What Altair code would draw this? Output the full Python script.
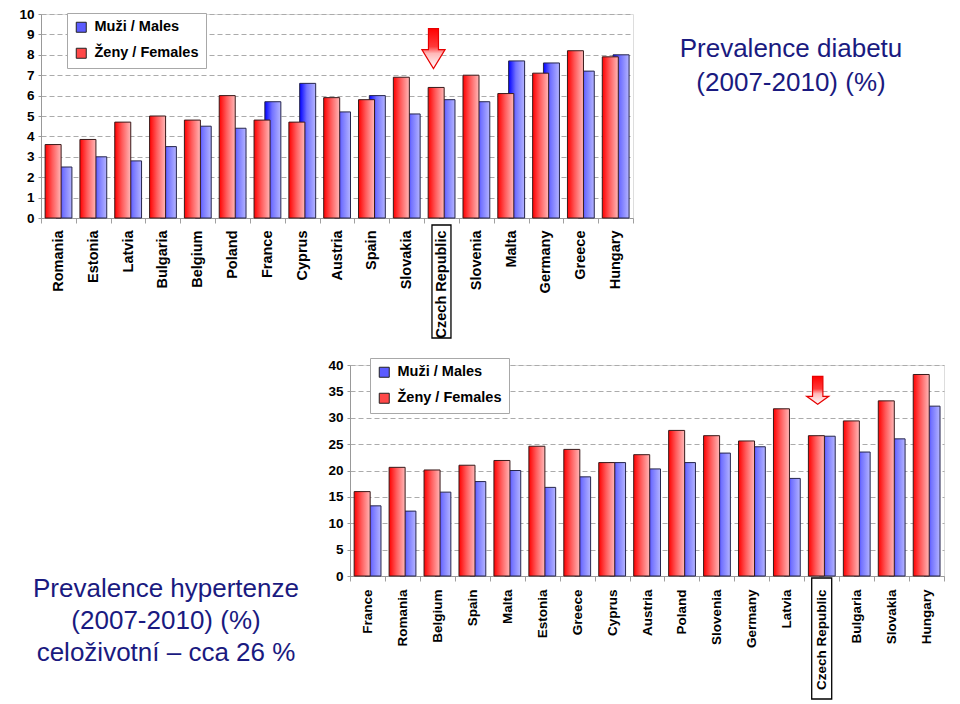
import altair as alt
import pandas as pd

# ---------------- data ----------------
diab_countries = ["Romania", "Estonia", "Latvia", "Bulgaria", "Belgium", "Poland", "France",
                  "Cyprus", "Austria", "Spain", "Slovakia", "Czech Republic", "Slovenia",
                  "Malta", "Germany", "Greece", "Hungary"]
diab_males = [2.5, 3.0, 2.8, 3.5, 4.5, 4.4, 5.7, 6.6, 5.2, 6.0, 5.1, 5.8, 5.7, 7.7, 7.6, 7.2, 8.0]
diab_females = [3.6, 3.85, 4.7, 5.0, 4.8, 6.0, 4.8, 4.7, 5.9, 5.8, 6.9, 6.4, 7.0, 6.1, 7.1, 8.2, 7.9]

hyp_countries = ["France", "Romania", "Belgium", "Spain", "Malta", "Estonia", "Greece", "Cyprus",
                 "Austria", "Poland", "Slovenia", "Germany", "Latvia", "Czech Republic",
                 "Bulgaria", "Slovakia", "Hungary"]
hyp_males = [13.3, 12.3, 15.9, 17.9, 20.0, 16.8, 18.8, 21.5, 20.3, 21.5, 23.3, 24.5, 18.5,
             26.5, 23.5, 26.0, 32.2]
hyp_females = [16.0, 20.6, 20.1, 21.0, 21.9, 24.6, 24.0, 21.5, 23.0, 27.6, 26.6, 25.6, 31.7,
               26.6, 29.4, 33.2, 38.2]

series_names = ["Muži / Males", "Ženy / Females"]
highlight_country = "Czech Republic"
diab_ticks = list(range(0, 11))
hyp_ticks = list(range(0, 41, 5))
diab_title_lines = ["Prevalence diabetu", "(2007-2010) (%)"]
hyp_title_lines = ["Prevalence hypertenze", "(2007-2010) (%)", "celoživotní – cca 26 %"]

# ---------------- styles ----------------
FONT = "Liberation Sans, Arial, sans-serif"
NAVY = "#1a1a80"


def grad(stops, vertical=False):
    return alt.LinearGradient(
        gradient="linear",
        stops=[alt.GradientStop(color=c, offset=o) for c, o in stops],
        x1=0, x2=0 if vertical else 1, y1=0, y2=1 if vertical else 0,
    )


RED_GRAD = grad([("#ff0000", 0), ("#ff5a5a", 0.45), ("#ffb8b8", 1)])
BLUE_GRAD = grad([("#0000ff", 0), ("#7272ff", 0.45), ("#b4b4ff", 1)])
ARROW_GRAD = grad([("#ff0000", 0), ("#ff3a3a", 0.45), ("#ffb8b8", 0.62), ("#ffffff", 1)], vertical=True)


def panel(countries, males, females, ticks, W, H, xlab_size, xlab_pad, leg_x, leg_y,
          box_w, box_top, box_bottom, arrow_value, arrow_path, arrow_size, arrow_dx,
          title=None):
    n = len(countries)
    df = pd.DataFrame({
        "country": countries + countries,
        "series": [series_names[0]] * n + [series_names[1]] * n,
        "value": males + females,
    })
    xscale = alt.Scale(domain=countries, paddingInner=0, paddingOuter=0)
    yscale = alt.Scale(domain=[ticks[0], ticks[-1]], nice=False)
    xaxis = alt.Axis(
        title=None, labelAngle=270, labelAlign="right", labelBaseline="middle",
        labelFont=FONT, labelFontSize=xlab_size, labelFontWeight="bold", labelColor="black",
        labelPadding=xlab_pad, tickSize=5, tickColor="#a0a0a0", tickBand="extent",
        domainColor="#999999", grid=False, labelLimit=300,
    )
    yaxis = alt.Axis(
        title=None, values=ticks, tickCount=len(ticks), labelFont=FONT, labelFontSize=13.5,
        labelFontWeight="bold", labelColor="black", labelPadding=4, tickSize=3,
        tickColor="#999999", domainColor="#999999", grid=True, gridColor="#ababab",
        gridDash=[5, 3], gridWidth=1, labelOverlap=False,
    )
    x_enc = alt.X("country:N", scale=xscale, sort=countries, axis=xaxis)
    y_enc = alt.Y("value:Q", scale=yscale, axis=yaxis)

    base = alt.Chart(df)
    males_layer = base.transform_filter(alt.datum.series == series_names[0]).mark_bar(
        width=16, xOffset=5.5, fill=BLUE_GRAD, stroke="#26264d", strokeWidth=1
    ).encode(x=x_enc, y=y_enc)
    females_layer = base.transform_filter(alt.datum.series == series_names[1]).mark_bar(
        width=16, xOffset=-5.3, fill=RED_GRAD, stroke="#3a1a1a", strokeWidth=1
    ).encode(x=x_enc, y=y_enc)
    legend_layer = base.mark_square(size=0).encode(
        color=alt.Color(
            "series:N",
            scale=alt.Scale(domain=series_names, range=["#5c5cff", "#ff4848"]),
            legend=alt.Legend(
                title=None, orient="none", legendX=leg_x, legendY=leg_y, direction="vertical",
                labelFont=FONT, labelFontSize=14.5, labelFontWeight="bold", labelColor="black",
                symbolType="square", symbolSize=100, symbolStrokeColor="#222222",
                symbolStrokeWidth=1, symbolOpacity=1, labelOffset=6,
                strokeColor="#a8a8a8", fillColor="white", padding=7, rowPadding=10,
            ),
        )
    )
    hl = pd.DataFrame({"country": [highlight_country], "value": [arrow_value]})
    box_layer = alt.Chart(hl).mark_bar(
        width=box_w, fill="transparent", stroke="black", strokeWidth=1.3
    ).encode(x=x_enc, y=alt.value(H + box_top), y2=alt.value(H + box_bottom))
    arrow_layer = alt.Chart(hl).mark_point(
        shape=arrow_path, size=arrow_size, filled=True, fill=ARROW_GRAD, stroke="#e60000",
        strokeWidth=1.2, opacity=1, xOffset=arrow_dx,
    ).encode(x=x_enc, y=y_enc)
    layers = [males_layer, females_layer, legend_layer, box_layer, arrow_layer]
    if title is not None:
        tdf = pd.DataFrame({"t": ["\n".join(title[0])]})
        layers.append(
            alt.Chart(tdf).mark_text(
                align="center", baseline="middle", font=FONT, fontSize=26, color=NAVY,
                lineBreak="\n", lineHeight=34,
            ).encode(text="t:N", x=alt.value(title[1]), y=alt.value(title[2]))
        )
    return alt.layer(*layers).properties(width=W, height=H)


TOP_H = 204
top = panel(
    diab_countries, diab_males, diab_females, diab_ticks, 592, TOP_H, 14.5, 7, 26, -1,
    19, 7, 120, 8.3,
    "M -0.25 -1 L 0.25 -1 L 0.25 0.05 L 0.58 0.05 L 0 1 L -0.58 0.05 L -0.25 0.05 Z",
    1600, -8,
    title=(diab_title_lines, 750, 35),
)

bottom = panel(
    hyp_countries, hyp_males, hyp_females, hyp_ticks, 594, 211, 13.5, 8, 20, -7,
    20, 2, 123, 35.2,
    "M -0.37 -1 L 0.37 -1 L 0.37 0.43 L 0.79 0.43 L 0 1 L -0.79 0.43 L -0.37 0.43 Z",
    784, -4,
)

text_df = pd.DataFrame({"t": ["\n".join(hyp_title_lines)]})
text_chart = alt.Chart(text_df).mark_text(
    align="center", baseline="middle", font=FONT, fontSize=26, color=NAVY,
    lineBreak="\n", lineHeight=32,
).encode(text="t:N", x=alt.value(125), y=alt.value(224)).properties(
    width=285, height=211, view=alt.ViewBackground(stroke="transparent", fill="transparent")
)

lower = alt.hconcat(text_chart, bottom, spacing=0).resolve_scale(
    color="independent").resolve_legend(color="independent")

chart = alt.vconcat(top, lower, spacing=17).resolve_scale(
    color="independent").resolve_legend(color="independent").properties(
    padding={"left": 10, "top": -2, "right": 0, "bottom": 0}
).configure_view(stroke="#c8c8c8", fill="white").configure(font=FONT)

chart.save("out.html", embed_options={"renderer": "svg", "actions": False})
